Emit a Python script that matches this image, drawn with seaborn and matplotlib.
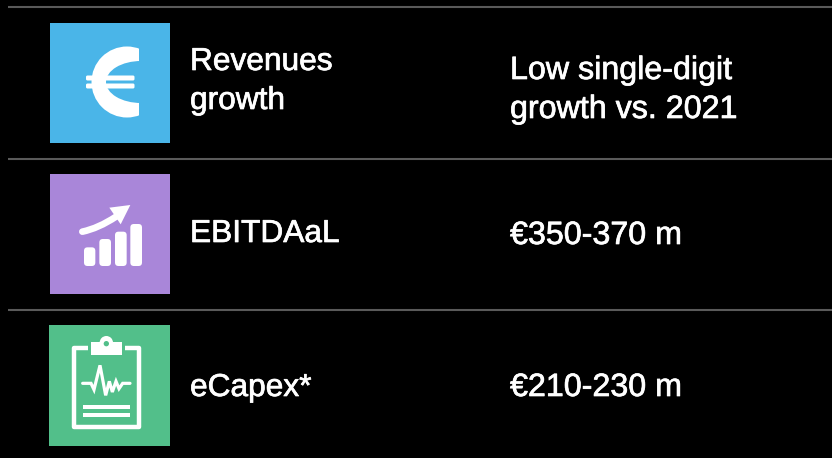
import matplotlib
matplotlib.use("Agg")
import matplotlib.pyplot as plt
import matplotlib.patheffects as pe
import seaborn as sns
from matplotlib.patches import Rectangle, Circle, Ellipse, FancyBboxPatch, Polygon
from matplotlib.path import Path
from matplotlib.patches import PathPatch

metrics = ["Revenues\ngrowth", "EBITDAaL", "eCapex*"]
guidance = ["Low single-digit\ngrowth vs. 2021", "€350-370 m", "€210-230 m"]
colors = ["#4AB5E8", "#A986D9", "#52BF8A"]

sns.set_theme(style="white", rc={"figure.facecolor": "black", "axes.facecolor": "black"})
plt.rcParams["font.family"] = ["Liberation Sans", "DejaVu Sans"]

fig, ax = plt.subplots(figsize=(8.32, 4.58), dpi=100)
fig.subplots_adjust(0, 0, 1, 1)
ax.set_xlim(0, 832)
ax.set_ylim(458, 0)
ax.set_xticks([])
ax.set_yticks([])
sns.despine(ax=ax, left=True, bottom=True)

# separators
for y in (7, 158.5, 310):
    ax.plot([8, 832], [y, y], color="#5A5A5A", lw=1.5, solid_capstyle="butt")

# icon squares
squares = [(50, 23, 120, 120), (50, 174, 120, 120), (49, 325, 121, 121)]
for (x, y, w, h), c in zip(squares, colors):
    ax.add_patch(Rectangle((x, y), w, h, fc=c, ec="none", zorder=1))

W = "white"

# euro icon
clip = Rectangle((80, 40), 58.5, 85, transform=ax.transData)
outer = Circle((127, 82), 35.5, fc=W, ec="none", zorder=2)
ax.add_patch(outer)
outer.set_clip_path(clip)
inner = Ellipse((141, 82), 70, 42, fc=colors[0], ec="none", zorder=3)
ax.add_patch(inner)
inner.set_clip_path(Rectangle((50, 23), 120, 120, transform=ax.transData))
for y in (75, 83):
    ax.add_patch(FancyBboxPatch((86, y + 0.5), 48.5, 5, boxstyle="round,pad=0,rounding_size=1.5",
                                fc=W, ec="none", zorder=4))

# growth icon
def gx(v):
    return v / 3 + 30
def gy(v):
    return v / 3 + 165
for x0, x1, y0 in [(162, 196, 247), (208, 243, 222), (255, 290, 200), (301, 336, 177)]:
    ax.add_patch(FancyBboxPatch((gx(x0), gy(y0)), (x1 - x0) / 3, (303 - y0) / 3,
                                boxstyle="round,pad=0,rounding_size=3.5", fc=W, ec="none", zorder=2))
ax.add_patch(PathPatch(Path([(gx(157), gy(200)), (gx(205), gy(190)), (gx(258), gy(155))],
                            [Path.MOVETO, Path.CURVE3, Path.CURVE3]),
                       fc="none", ec=W, lw=4.8, capstyle="round", zorder=2))
ax.add_patch(Polygon([(gx(301), gy(120)), (gx(238), gy(128)), (gx(272), gy(178))], fc=W, ec="none", zorder=2))

# clipboard icon
def cx(v):
    return v / 3 + 30
def cy(v):
    return v / 3 + 318
ax.add_patch(PathPatch(Path(
    [(cx(174), cy(91)), (cx(133), cy(91)), (cx(133), cy(326)), (cx(326), cy(326)), (cx(326), cy(91)), (cx(285), cy(91))],
    [Path.MOVETO, Path.LINETO, Path.LINETO, Path.LINETO, Path.LINETO, Path.LINETO]),
    fc="none", ec=W, lw=3.2, joinstyle="round", zorder=2))
ax.add_patch(Rectangle((cx(182), cy(72)), 94 / 3, 38 / 3, fc=W, ec="none", zorder=2))
ax.add_patch(Circle((cx(229), cy(74)), 20 / 3, fc=W, ec="none", zorder=2))
ax.add_patch(Circle((cx(229), cy(77)), 8 / 3, fc=colors[2], ec="none", zorder=3))
pulse_x = [158, 183, 192, 210, 227, 238, 247, 258, 267, 278, 300]
pulse_y = [196, 196, 215, 142, 232, 190, 222, 190, 212, 196, 196]
ax.plot([cx(v) for v in pulse_x], [cy(v) for v in pulse_y], color=W, lw=2.3, solid_joinstyle="miter", zorder=2)
for y in (262, 284):
    ax.add_patch(Rectangle((cx(158), cy(y)), 142 / 3, 12 / 3, fc=W, ec="none", zorder=2))

# text
bold = [pe.withStroke(linewidth=0.5, foreground=W)]
label_y = [(70, 109), (242,), (396,)]
value_y = [(79, 118), (244,), (396,)]
for m, g, ly, vy in zip(metrics, guidance, label_y, value_y):
    for part, y in zip(m.split("\n"), ly):
        ax.text(190, y, part, color=W, fontsize=22.8, va="baseline", ha="left", path_effects=bold)
    for part, y in zip(g.split("\n"), vy):
        ax.text(510, y, part, color=W, fontsize=23.2, va="baseline", ha="left", path_effects=bold)

fig.savefig("out.png", dpi=100, facecolor="black")
